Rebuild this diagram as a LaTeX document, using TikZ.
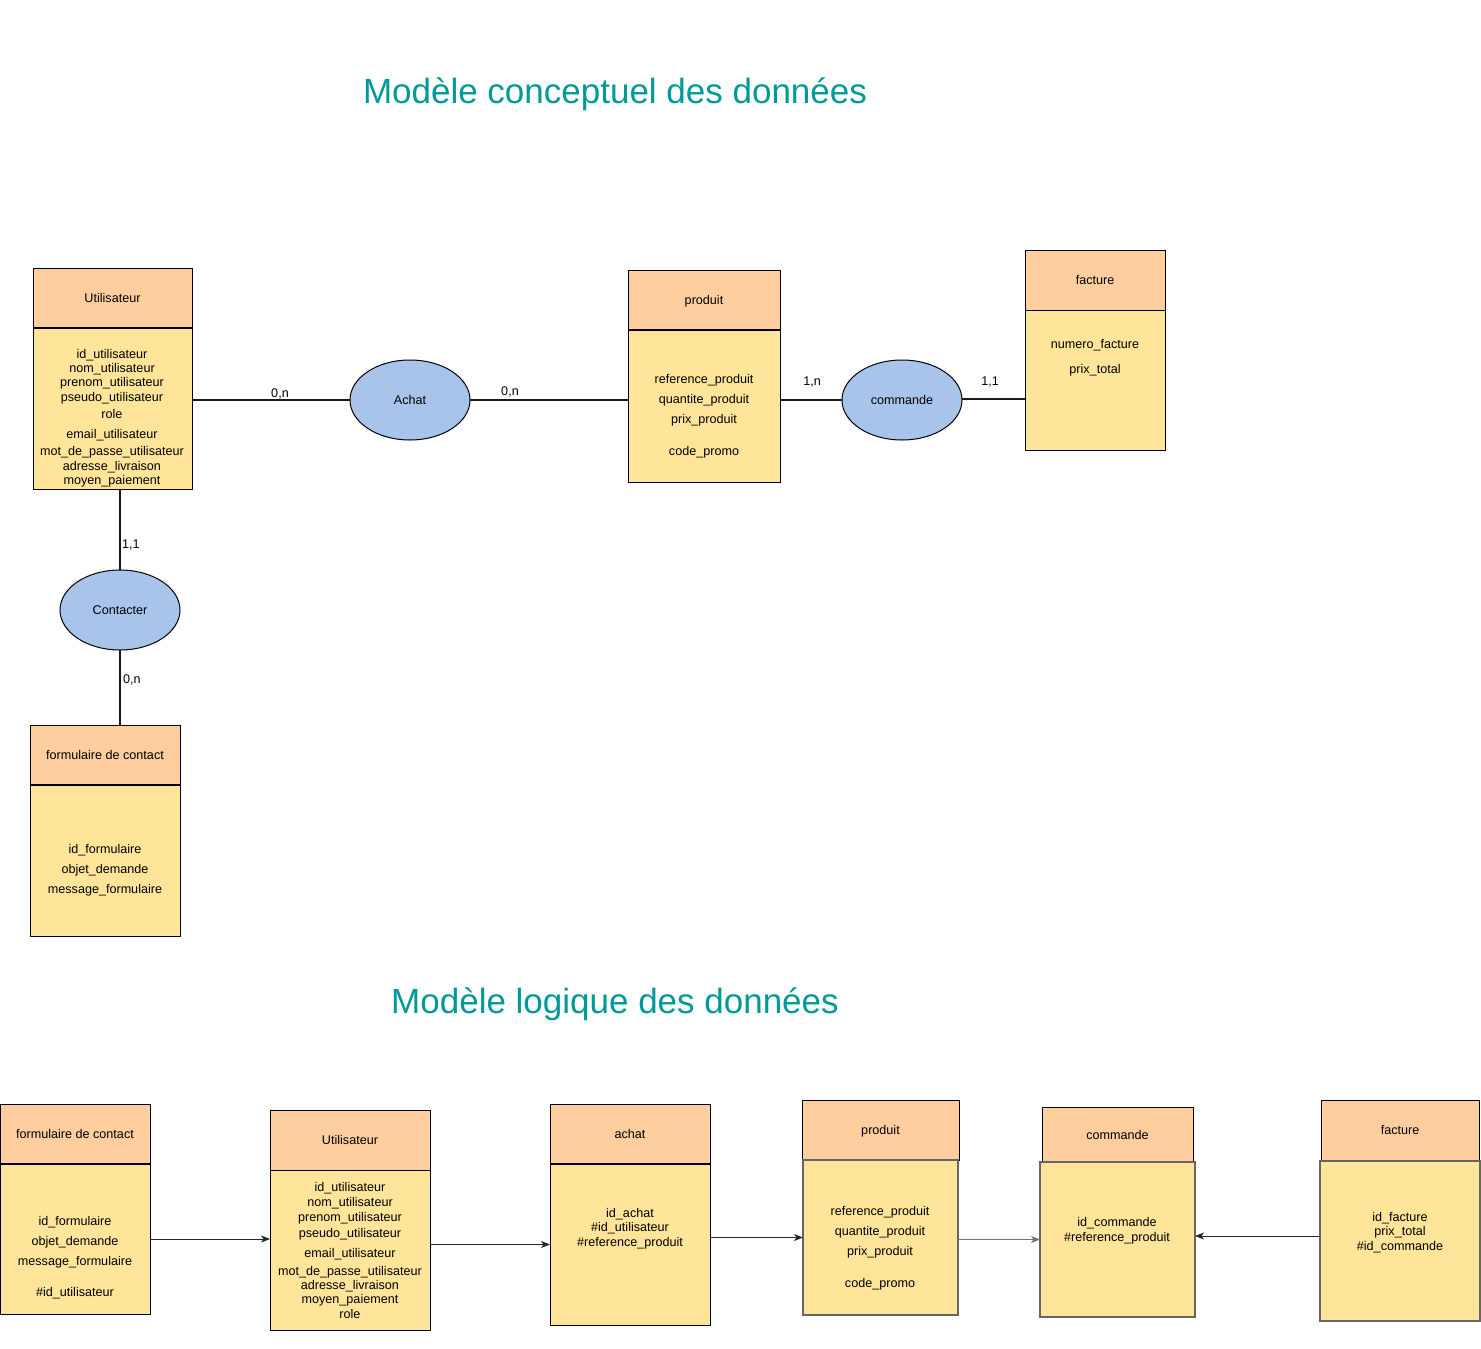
\documentclass[tikz,border=0pt]{standalone}
\usepackage{fontspec}
\setmainfont{Liberation Sans}
\usetikzlibrary{arrows.meta,shapes.geometric}
\definecolor{hdrc}{HTML}{FFCE9F}
\definecolor{bodyc}{HTML}{FFE599}
\definecolor{assocc}{HTML}{A9C4EB}
\definecolor{ttlc}{HTML}{009999}
\tikzset{
  x=1pt, y=-1pt,
  every node/.style={font=\fontsize{12.6}{14}\selectfont, inner sep=0pt, outer sep=0pt},
  hdr/.style={draw=black, fill=hdrc, line width=1pt, anchor=north west, text height=9pt, text depth=0pt},
  bodybox/.style={draw=black, fill=bodyc, line width=1pt, anchor=north west},
  greybody/.style={bodybox, draw=black!60, line width=1.2pt},
  assocel/.style={ellipse, draw=black, fill=assocc, line width=1pt, minimum width=120pt, minimum height=80pt, text height=9pt, text depth=0pt},
  rel/.style={line width=2pt, draw=black!90},
  sepline/.style={line width=2pt, draw=black},
  attr/.style={anchor=base},
  card/.style={anchor=base},
  cardl/.style={anchor=base west},
  lnk/.style={line width=1pt, draw=black!85, -{Stealth[length=9pt,width=7pt,inset=2.5pt]}},
  glnk/.style={lnk, draw=black!55},
  ttlstyle/.style={text=ttlc, font=\fontsize{35}{40}\selectfont, anchor=base}
}
\begin{document}
\begin{tikzpicture}
\useasboundingbox (0,0) rectangle (1481,1349);

% ---------- Titles ----------
\node[ttlstyle] (t1) at (615,103) {Modèle conceptuel des données};
\node[ttlstyle] (t2) at (615,1013) {Modèle logique des données};

% ================= MCD =================
% Utilisateur
\node[hdr, minimum width=159pt, minimum height=60pt] (cuh) at (33,268) {Utilisateur};
\node[bodybox, minimum width=159pt, minimum height=161pt] (cub) at (33,328) {};
\draw[sepline] (cuh.south west) -- (cuh.south east);
\node[attr] (cu1) at (112,358) {id\_utilisateur};
\node[attr] (cu2) at (112,372) {nom\_utilisateur};
\node[attr] (cu3) at (112,386) {prenom\_utilisateur};
\node[attr] (cu4) at (112,401) {pseudo\_utilisateur};
\node[attr] (cu5) at (112,418) {role};
\node[attr] (cu6) at (112,438) {email\_utilisateur};
\node[attr] (cu7) at (112,455) {mot\_de\_passe\_utilisateur};
\node[attr] (cu8) at (112,470) {adresse\_livraison};
\node[attr] (cu9) at (112,484) {moyen\_paiement};

% Achat
\node[assocel] (achat) at (410,400) {Achat};

% produit
\node[hdr, minimum width=152pt, minimum height=60pt] (cph) at (628,270) {produit};
\node[bodybox, minimum width=152pt, minimum height=152pt] (cpb) at (628,330) {};
\draw[sepline] (cph.south west) -- (cph.south east);
\node[attr] (cp1) at (704,383) {reference\_produit};
\node[attr] (cp2) at (704,403) {quantite\_produit};
\node[attr] (cp3) at (704,423) {prix\_produit};
\node[attr] (cp4) at (704,455) {code\_promo};

% commande
\node[assocel] (cmd) at (902,400) {commande};

% facture
\node[hdr, minimum width=140pt, minimum height=60pt] (cfh) at (1025,250) {facture};
\node[bodybox, minimum width=140pt, minimum height=140pt] (cfb) at (1025,310) {};
\node[attr] (cf1) at (1095,348) {numero\_facture};
\node[attr] (cf2) at (1095,373) {prix\_total};

% Contacter
\node[assocel] (contact) at (120,610) {Contacter};

% formulaire de contact
\node[hdr, minimum width=150pt, minimum height=60pt] (cfoh) at (30,725) {formulaire de contact};
\node[bodybox, minimum width=150pt, minimum height=151pt] (cfob) at (30,785) {};
\draw[sepline] (cfoh.south west) -- (cfoh.south east);
\node[attr] (cfo1) at (105,853) {id\_formulaire};
\node[attr] (cfo2) at (105,873) {objet\_demande};
\node[attr] (cfo3) at (105,893) {message\_formulaire};

% MCD relations
\draw[rel] (cub.east |- achat.west) -- (achat.west);
\draw[rel] (achat.east) -- (cpb.west |- achat.east);
\draw[rel] (cpb.east |- cmd.west) -- (cmd.west);
\draw[rel] ([yshift=1pt]cmd.east) -- ([yshift=1pt]cfb.west |- cmd.east);
\draw[rel] (contact.north |- cub.south) -- (contact.north);
\draw[rel] (contact.south) -- (contact.south |- cfoh.north);

\node[card] (k1) at (280,397) {0,n};
\node[card] (k2) at (510,395) {0,n};
\node[card] (k3) at (812,385) {1,n};
\node[card] (k4) at (990,385) {1,1};
\node[cardl] (k5) at (122,548) {1,1};
\node[cardl] (k6) at (123,683) {0,n};

% ================= MLD =================
% formulaire de contact
\node[hdr, minimum width=150pt, minimum height=60pt] (lfoh) at (0,1104) {formulaire de contact};
\node[bodybox, minimum width=150pt, minimum height=150pt] (lfob) at (0,1164) {};
\draw[sepline] (lfoh.south west) -- (lfoh.south east);
\node[attr] (lfo1) at (75,1225) {id\_formulaire};
\node[attr] (lfo2) at (75,1245) {objet\_demande};
\node[attr] (lfo3) at (75,1265) {message\_formulaire};
\node[attr] (lfo4) at (75,1296) {\#id\_utilisateur};

% Utilisateur
\node[hdr, minimum width=160pt, minimum height=60pt] (luh) at (270,1110) {Utilisateur};
\node[bodybox, minimum width=160pt, minimum height=160pt] (lub) at (270,1170) {};
\node[attr] (lu1) at (350,1191) {id\_utilisateur};
\node[attr] (lu2) at (350,1206) {nom\_utilisateur};
\node[attr] (lu3) at (350,1221) {prenom\_utilisateur};
\node[attr] (lu4) at (350,1237) {pseudo\_utilisateur};
\node[attr] (lu5) at (350,1257) {email\_utilisateur};
\node[attr] (lu6) at (350,1275) {mot\_de\_passe\_utilisateur};
\node[attr] (lu7) at (350,1289) {adresse\_livraison};
\node[attr] (lu8) at (350,1303) {moyen\_paiement};
\node[attr] (lu9) at (350,1318) {role};

% achat
\node[hdr, minimum width=160pt, minimum height=60pt] (lah) at (550,1104) {achat};
\node[bodybox, minimum width=160pt, minimum height=161pt] (lab) at (550,1164) {};
\draw[sepline] (lah.south west) -- (lah.south east);
\node[attr] (la1) at (630,1217) {id\_achat};
\node[attr] (la2) at (630,1231) {\#id\_utilisateur};
\node[attr] (la3) at (630,1246) {\#reference\_produit};

% produit
\node[hdr, minimum width=157pt, minimum height=60pt] (lph) at (802,1100) {produit};
\node[greybody, minimum width=155pt, minimum height=155pt] (lpb) at (803,1160) {};
\node[attr] (lp1) at (880,1215) {reference\_produit};
\node[attr] (lp2) at (880,1235) {quantite\_produit};
\node[attr] (lp3) at (880,1255) {prix\_produit};
\node[attr] (lp4) at (880,1287) {code\_promo};

% commande
\node[hdr, minimum width=151pt, minimum height=55pt] (lch) at (1042,1107) {commande};
\node[greybody, minimum width=155pt, minimum height=155pt] (lcb) at (1040,1162) {};
\node[attr] (lc1) at (1117,1226) {id\_commande};
\node[attr] (lc2) at (1117,1241) {\#reference\_produit};

% facture
\node[hdr, minimum width=158pt, minimum height=60pt] (lfh) at (1321,1100) {facture};
\node[greybody, minimum width=160pt, minimum height=160pt] (lfb) at (1320,1161) {};
\node[attr] (lf1) at (1400,1221) {id\_facture};
\node[attr] (lf2) at (1400,1235) {prix\_total};
\node[attr] (lf3) at (1400,1250) {\#id\_commande};

% MLD links
\draw[lnk] (lfob.east) -- (lub.west |- lfob.east);
\draw[lnk] (lub.east |- lab.west) -- (lab.west);
\draw[lnk] (lab.east |- lpb.west) -- (lpb.west);
\draw[glnk] (lpb.east |- lcb.west) -- (lcb.west);
\draw[lnk] ([yshift=5pt]lfb.west) -- ([yshift=5pt]lcb.east |- lfb.west);
\end{tikzpicture}
\end{document}
